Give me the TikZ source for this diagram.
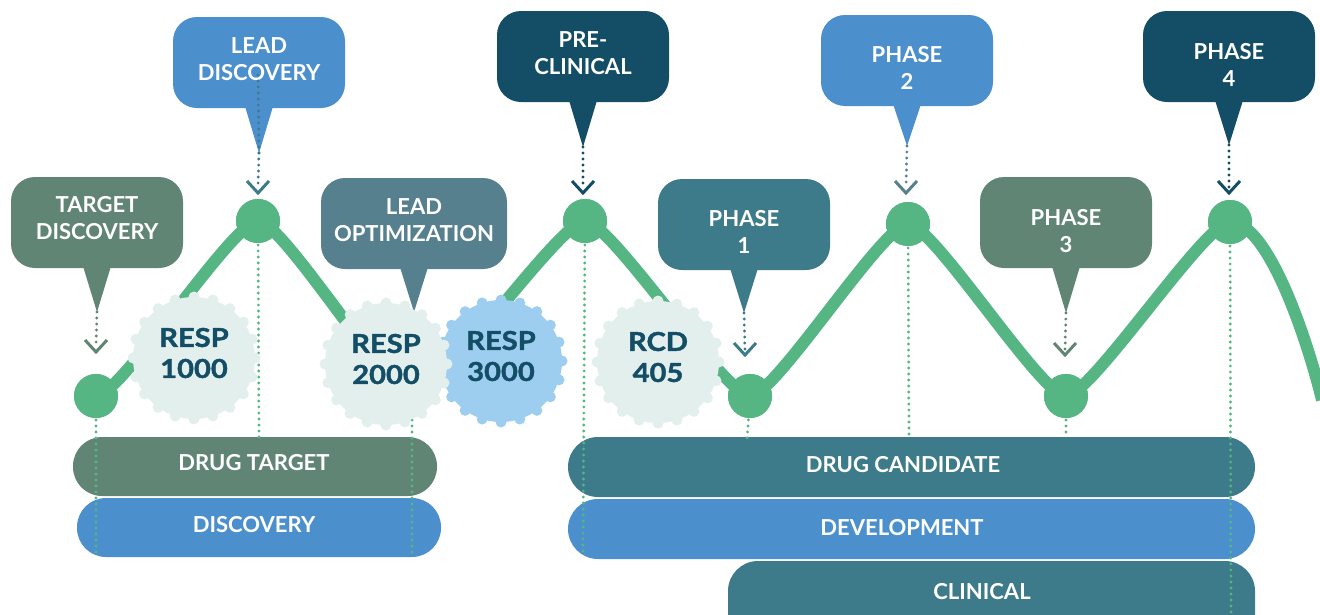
\documentclass[tikz,border=0pt]{standalone}
\usepackage{fontspec}
\setmainfont{Lato}
\newfontfamily\respfont{Lato}[FakeStretch=1.12, FakeBold=1.6]
\definecolor{cgreen}{HTML}{55B583}
\definecolor{cgg}{HTML}{618575}
\definecolor{cblue}{HTML}{4B90CD}
\definecolor{cteal}{HTML}{3D7B8B}
\definecolor{cslate}{HTML}{57808F}
\definecolor{cdark}{HTML}{134E66}
\definecolor{clight}{HTML}{E3EFEC}
\definecolor{clblue}{HTML}{9DCDEF}
\tikzset{
  wave/.style={draw=cgreen, line width=12pt, line join=round},
  gdot/.style={circle, fill=cgreen, minimum size=44pt, inner sep=0pt},
  gline/.style={draw=cgreen, line width=3.2pt, line cap=round, dash pattern=on 0pt off 6pt},
  cline/.style={line width=3.2pt, line cap=round, dash pattern=on 0pt off 6pt},
  chev/.style={line width=3pt},
  bartext/.style={text=white, inner sep=0pt, font=\fontsize{22}{27}\selectfont\bfseries},
  calltext/.style={text=white, align=center, inner sep=0pt, font=\fontsize{22}{27}\selectfont\bfseries},
  resptext/.style={text=cdark, align=center, inner sep=0pt, font=\respfont\bfseries\fontsize{26}{31}\selectfont},
}
% name, cx, top, halfwidth, colour, text, tip y, text y
\newcommand\mycallout[8]{%
  \fill[#5, rounded corners=24pt] (#2-#4,#3) rectangle (#2+#4,#3+91);
  \fill[#5] (#2-15,#3+86) -- (#2+15,#3+86) -- (#2,#7) -- cycle;
  \node[calltext] (#1) at (#2,#8) {#6};
  \coordinate (#1tip) at (#2,#7);
}
% name, x, bottom y, colour
\newcommand\mychev[4]{%
  \coordinate (#1chev) at (#2,#3);
  \draw[cline, draw=#4] (#1tip) -- ([yshift=6pt]#1chev);
  \draw[chev, draw=#4] ([shift={(-11,-12)}]#1chev) -- (#1chev) -- ([shift={(11,-12)}]#1chev);
}
% name, x, y, colour, text
\newcommand\mybubble[5]{%
  \fill[#4] (#2,#3) circle[radius=61pt];
  \foreach \a in {0,18,...,342} \fill[#4] (#2,#3) ++(\a:61) circle[radius=5.5pt];
  \node[resptext] (#1) at (#2,#3-5) {#5};
}
\begin{document}
\begin{tikzpicture}[x=1pt, y=-1pt]
\useasboundingbox (0,0) rectangle (1320,614);
\clip (0,0) rectangle (1320,614);

% bars
\fill[cgg, rounded corners=29pt] (73,437) rectangle (437,496);
\fill[cblue, rounded corners=29pt] (77,498) rectangle (441,557);
\fill[cteal, rounded corners=30pt] (568,437) rectangle (1255,497);
\fill[cblue, rounded corners=30pt] (568,499) rectangle (1255,559);
\fill[cteal, rounded corners=30pt] (728,561) rectangle (1255,680);
\node[bartext] (dt) at (254,463) {DRUG TARGET};
\node[bartext] (disc) at (254,525) {DISCOVERY};
\node[bartext] (dc) at (903,465) {DRUG CANDIDATE};
\node[bartext] (dev) at (902,528) {DEVELOPMENT};
\node[bartext] (clin) at (982,592) {CLINICAL};

% dots and trough
\node[gdot] (d1) at (96,396) {};
\node[gdot] (d2) at (258,221) {};
\coordinate (tr) at (414,396);
\node[gdot] (d3) at (585,221) {};
\node[gdot] (d4) at (750,396) {};
\node[gdot] (d5) at (908,224) {};
\node[gdot] (d6) at (1066,396) {};
\node[gdot] (d7) at (1230,222) {};
\coordinate (wend) at (1322,400);

% green dotted guides
\coordinate (e1) at (96,555);
\coordinate (e2) at (259,437);
\coordinate (e3) at (412,555);
\coordinate (e4) at (583,555);
\coordinate (e5) at (747,440);
\coordinate (e6) at (909,437);
\coordinate (e7) at (1066,437);
\coordinate (e8) at (1231,620);
\draw[gline] (d1.center) -- (e1);
\draw[gline] (d2.center) -- (e2);
\draw[gline] (412,396) -- (e3);
\draw[gline] (d3.center) -- (e4);
\draw[gline] (d4.center) -- (e5);
\draw[gline] (d5.center) -- (e6);
\draw[gline] (d6.center) -- (e7);
\draw[gline] (d7.center) -- (e8);

% wave
\draw[wave] (d1.center) .. controls +(25,0) and +(-25,0) .. (d2.center)
  .. controls +(25,0) and +(-25,0) .. (tr)
  .. controls +(25,0) and +(-25,0) .. (d3.center)
  .. controls +(25,0) and +(-25,0) .. (d4.center)
  .. controls +(25,0) and +(-25,0) .. (d5.center)
  .. controls +(25,0) and +(-25,0) .. (d6.center)
  .. controls +(25,0) and +(-25,0) .. (d7.center)
  .. controls +(40,0) and +(-12,-50) .. (wend);
\foreach \n in {d1,d2,d3,d4,d5,d6,d7} \fill[cgreen] (\n) circle[radius=22pt];

% callouts
\mycallout{td}{97}{177}{86}{cgg}{TARGET\\DISCOVERY}{312}{218}
\mycallout{ld}{259}{17}{86}{cblue}{LEAD\\DISCOVERY}{153}{59}
\mycallout{lo}{414}{178}{93}{cslate}{LEAD\\OPTIMIZATION}{312}{220}
\mycallout{pc}{583}{11}{86}{cdark}{PRE-\\CLINICAL}{147}{53}
\mycallout{pa}{744}{179}{86}{cteal}{PHASE\\1}{313}{232}
\mycallout{pb}{907}{15}{86}{cblue}{PHASE\\2}{146}{68}
\mycallout{pd}{1066}{177}{86}{cgg}{PHASE\\3}{313}{231}
\mycallout{pe}{1229}{11}{86}{cdark}{PHASE\\4}{145}{65}

\coordinate (ldtop) at (258,75);
\draw[cline, draw=cteal] (ldtop) -- (ldtip);
\mychev{td}{96}{352}{cgg}
\mychev{ld}{258}{193}{cteal}
\mychev{pc}{583}{193}{cdark}
\mychev{pa}{745}{355}{cteal}
\mychev{pb}{906}{193}{cslate}
\mychev{pd}{1065}{355}{cgg}
\mychev{pe}{1229}{193}{cdark}

% bubbles
\mybubble{r1}{194}{358}{clight}{RESP\\1000}
\mybubble{r3}{501}{361}{clblue}{RESP\\3000}
\mybubble{r2}{386}{364}{clight}{RESP\\2000}
\mybubble{rcd}{658}{362}{clight}{RCD\\405}
\end{tikzpicture}
\end{document}
